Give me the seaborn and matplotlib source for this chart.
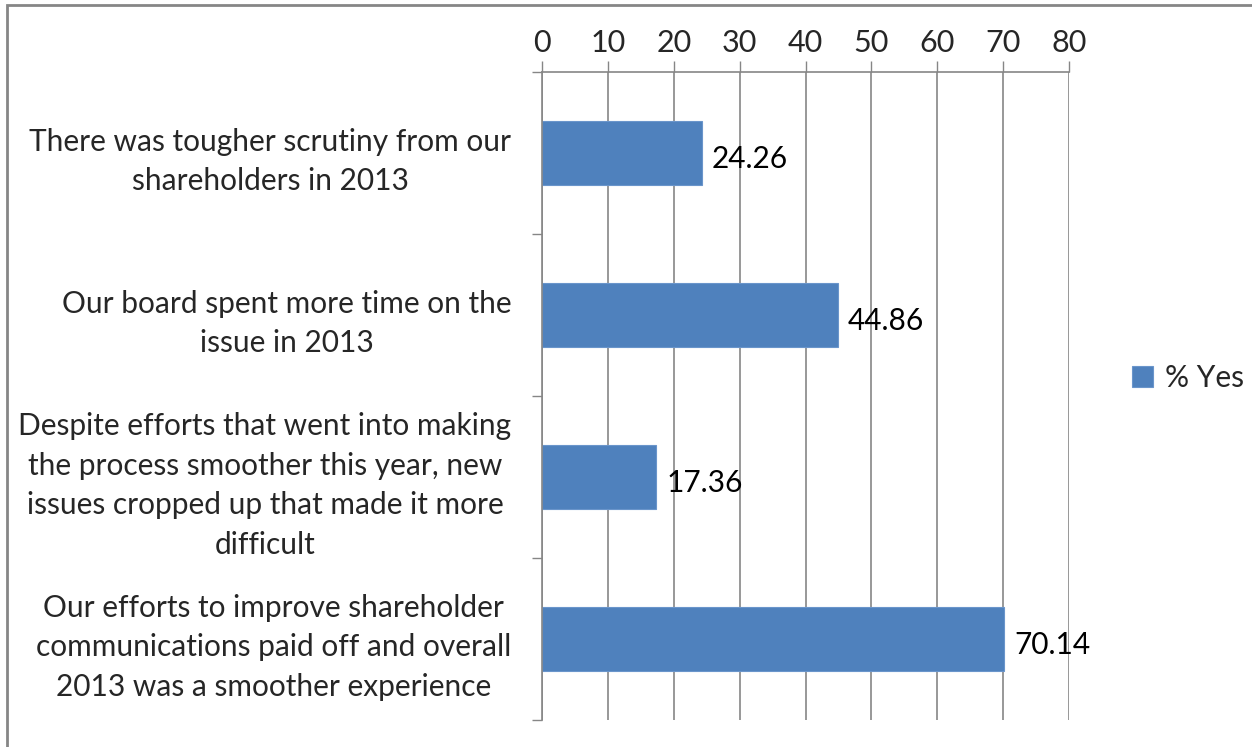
import matplotlib
matplotlib.use("Agg")
import matplotlib.pyplot as plt
import seaborn as sns
import pandas as pd
from matplotlib.patches import Rectangle
from matplotlib.ticker import FixedLocator, NullFormatter

categories = [
    "There was tougher scrutiny from our\nshareholders in 2013",
    "Our board spent more time on the\nissue in 2013",
    "Despite efforts that went into making\nthe process smoother this year, new\nissues cropped up that made it more\ndifficult",
    "Our efforts to improve shareholder\ncommunications paid off and overall\n2013 was a smoother experience",
]
values = [24.26, 44.86, 17.36, 70.14]
series_name = "% Yes"
x_ticks = [0, 10, 20, 30, 40, 50, 60, 70, 80]

sns.set_theme(style="white")
plt.rcParams["font.family"] = ["Lato", "DejaVu Sans"]

bar_color = "#4F81BD"
grid_color = "#868686"
fs = 21.5

df = pd.DataFrame({"category": categories, "value": values, "series": series_name})

fig = plt.figure(figsize=(12.52, 7.47), dpi=100)
ax = fig.add_axes([542 / 1252, 1 - 720 / 747, (1069 - 542) / 1252, (720 - 72) / 747])

sns.barplot(data=df, x="value", y="category", hue="series", palette=[bar_color],
            orient="h", width=0.39, ax=ax, legend=True, saturation=1)

ax.set_xlim(0, 80)
ax.set_ylim(len(categories) - 0.5, -0.5)
ax.set_xlabel("")
ax.set_ylabel("")

# x axis on top
ax.xaxis.tick_top()
ax.set_xticks(x_ticks)
ax.set_xticklabels([str(t) for t in x_ticks])
ax.tick_params(axis="x", which="major", direction="out", length=8, width=1,
               color=grid_color, labelsize=22, pad=3, top=True, bottom=False)
ax.grid(True, axis="x", color=grid_color, linewidth=1.2)
ax.set_axisbelow(True)

# category boundaries carry the tick marks, centres carry the labels
ax.yaxis.set_major_locator(FixedLocator([i - 0.5 for i in range(len(categories) + 1)]))
ax.yaxis.set_major_formatter(NullFormatter())
ax.yaxis.set_minor_locator(FixedLocator(list(range(len(categories)))))
ax.set_yticklabels(categories, minor=True, fontsize=fs, ha="right",
                   multialignment="center", linespacing=1.5)
ax.tick_params(axis="y", which="major", direction="out", length=7, width=1, color=grid_color, left=True)
ax.tick_params(axis="y", which="minor", length=0, pad=22)

for side in ["right", "bottom"]:
    ax.spines[side].set_visible(False)
for side in ["left", "top"]:
    ax.spines[side].set_color(grid_color)
    ax.spines[side].set_linewidth(1.2)

for bar in ax.patches:
    bar.set_edgecolor("#6A95CB")
    bar.set_linewidth(0.8)

for i, v in enumerate(values):
    ax.text(v + 1.5, i + 0.04, f"{v:.2f}", va="center", ha="left", fontsize=fs, color="black")

leg = ax.legend(loc="center left", bbox_to_anchor=(1105 / 1252, 1 - 378 / 747),
                bbox_transform=fig.transFigure, frameon=False, fontsize=fs,
                handlelength=0.7, handleheight=0.7, handletextpad=0.4)

# outer chart frame
fig.patches.append(Rectangle((6.5 / 1252, -0.1), 1.2, 1 - 4.5 / 747 + 0.1, transform=fig.transFigure,
                             fill=False, edgecolor="#868686", linewidth=2))

fig.savefig("out.png", dpi=100, facecolor="white")
